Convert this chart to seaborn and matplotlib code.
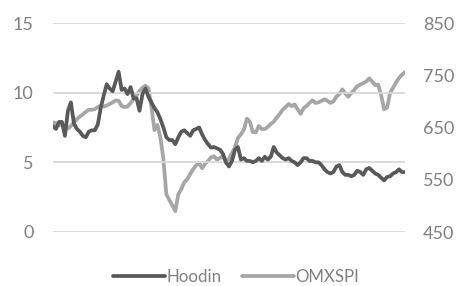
import numpy as np
import pandas as pd
import matplotlib
matplotlib.use("Agg")
import matplotlib.pyplot as plt
import seaborn as sns

hoodin = [7.6, 7.4, 7.9, 7.9, 6.9, 8.7, 9.3, 7.8, 7.4, 7.2, 6.9, 6.8, 7.2, 7.3, 7.3, 7.7,
          8.9, 9.8, 10.6, 10.3, 10.1, 10.8, 11.5, 10.2, 10.3, 9.9, 10.4, 9.6, 9.6, 8.7,
          9.9, 10.3, 9.7, 9.3, 8.9, 8.6, 8.1, 7.5, 6.8, 6.6, 6.6, 6.3, 6.8, 7.2, 7.3, 7.1,
          6.9, 7.3, 7.4, 7.5, 7.0, 6.6, 6.3, 6.05, 6.1, 6.0, 5.9, 5.6, 5.0, 4.7, 5.1, 5.9,
          6.1, 5.2, 5.3, 5.1, 5.1, 5.0, 5.1, 5.3, 5.1, 5.4, 5.2, 5.4, 6.1, 5.7, 5.5, 5.3,
          5.2, 5.3, 5.1, 5.0, 4.8, 5.0, 5.3, 5.3, 5.1, 5.1, 5.0, 5.0, 4.8, 4.5, 4.3, 4.2,
          4.3, 4.7, 4.8, 4.3, 4.1, 4.1, 4.0, 4.1, 4.4, 4.3, 4.1, 4.5, 4.6, 4.4, 4.2, 4.1,
          3.9, 3.7, 3.95, 4.0, 4.2, 4.3, 4.5, 4.3, 4.3]

omxspi = [660, 658, 654, 656, 649, 648, 653, 659, 666, 671, 675, 680, 684, 684, 685, 689,
          692, 690, 692, 695, 698, 702, 701, 691, 689, 690, 697, 704, 711, 720, 726, 730,
          725, 690, 645, 655, 631, 590, 522, 511, 501, 490, 522, 532, 545, 551, 561, 570,
          578, 582, 572, 581, 586, 593, 595, 588, 592, 595, 582, 590, 601, 612, 630, 637,
          646, 667, 661, 641, 641, 653, 647, 647, 651, 657, 661, 669, 676, 684, 689, 695,
          691, 694, 685, 676, 687, 691, 697, 702, 697, 698, 701, 704, 701, 697, 700, 709,
          714, 723, 715, 709, 716, 722, 729, 732, 735, 738, 744, 738, 731, 732, 712, 685,
          688, 716, 726, 736, 745, 751, 756]

left_ticks = [0, 5, 10, 15]
right_ticks = [450, 550, 650, 750, 850]
series_names = ["Hoodin", "OMXSPI"]

sns.set_theme(style="white")
plt.rcParams["font.family"] = ["Lato", "DejaVu Sans"]

df_h = pd.DataFrame({"t": np.linspace(0, 1, len(hoodin)), "v": hoodin})
df_o = pd.DataFrame({"t": np.linspace(0, 1, len(omxspi)), "v": omxspi})

fig = plt.figure(figsize=(4.58, 2.86), dpi=100)
ax = fig.add_axes([53/458, 1-232/286, (405-53)/458, (232-23)/286])
ax2 = ax.twinx()

txt_col = "#808080"
fs = 13
ax.set_ylim(0, 15)
ax2.set_ylim(450, 850)
ax.set_xlim(0, 1)
ax.set_yticks(left_ticks)
ax2.set_yticks(right_ticks)
ax.grid(axis="y", color="#d9d9d9", linewidth=1.3)
ax.set_axisbelow(True)
for a in (ax, ax2):
    for s in a.spines.values():
        s.set_visible(False)
    a.set_xticks([])
    a.tick_params(axis="y", length=0, labelsize=fs, labelcolor=txt_col)
ax.tick_params(axis="y", pad=14)
ax2.tick_params(axis="y", pad=13)

sns.lineplot(data=df_o, x="t", y="v", ax=ax2, color="#a6a6a6", linewidth=2.7, label=series_names[1], legend=False)
sns.lineplot(data=df_h, x="t", y="v", ax=ax, color="#595959", linewidth=2.7, label=series_names[0], legend=False)
ax.set_zorder(ax2.get_zorder() + 1)
ax.patch.set_visible(False)
ax.set_xlabel(""); ax.set_ylabel(""); ax2.set_xlabel(""); ax2.set_ylabel("")
ax.set_xticks([]); ax2.set_xticks([])

h1, l1 = ax.get_legend_handles_labels()
h2, l2 = ax2.get_legend_handles_labels()
leg = fig.legend(h1 + h2, l1 + l2, loc="center", bbox_to_anchor=(236/458, 1-277/286), ncol=2,
                 frameon=False, handlelength=3.1, handletextpad=0.08,
                 columnspacing=1.2, borderpad=0, labelcolor=txt_col,
                 prop={"size": 12.2})

fig.savefig("out.png", dpi=100)
